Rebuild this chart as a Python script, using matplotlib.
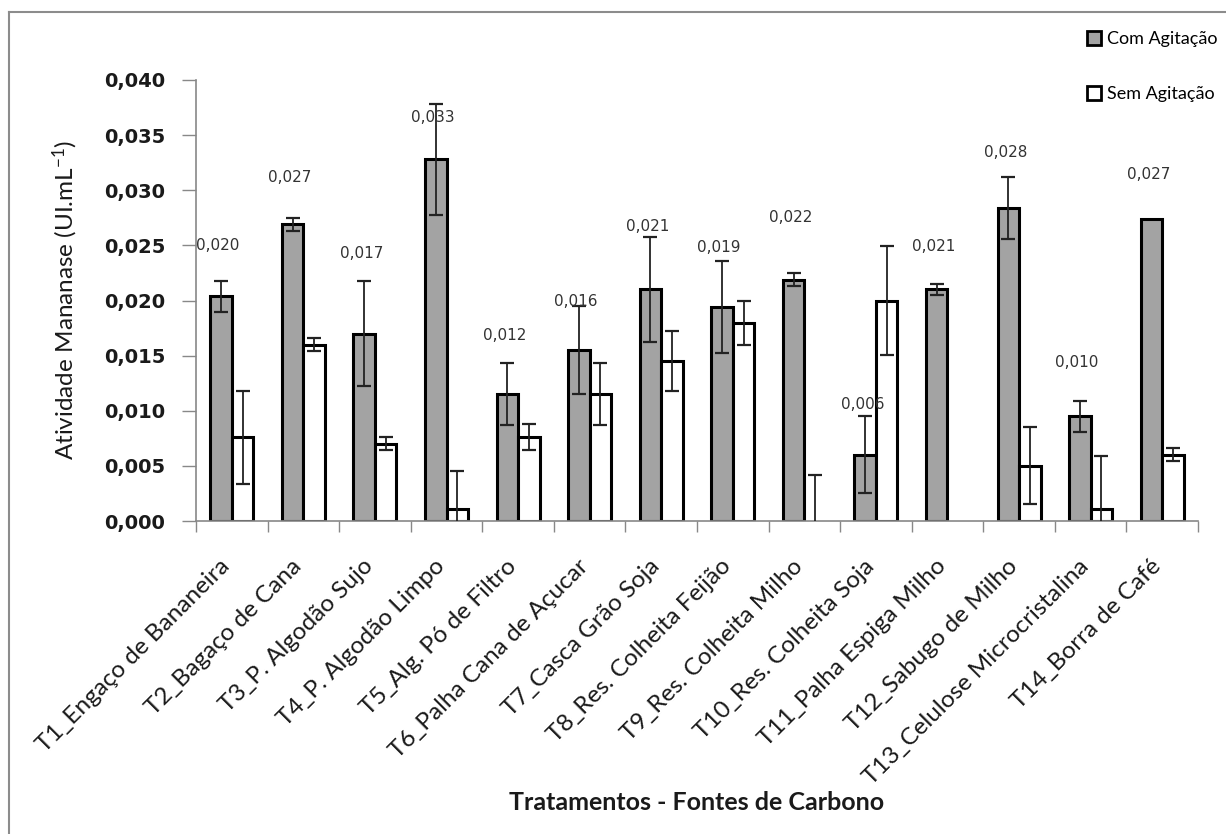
import matplotlib
matplotlib.use("Agg")
import matplotlib.pyplot as plt
from matplotlib.patches import Patch
from matplotlib.lines import Line2D
import matplotlib.transforms as mtransforms
import numpy as np

# ---------------- data ----------------
categories = [
    "T1_Engaço de Bananeira", "T2_Bagaço de Cana", "T3_P. Algodão Sujo",
    "T4_P. Algodão Limpo", "T5_Alg. Pó de Filtro", "T6_Palha Cana de Açucar",
    "T7_Casca Grão Soja", "T8_Res. Colheita Feijão", "T9_Res. Colheita Milho",
    "T10_Res. Colheita Soja", "T11_Palha Espiga Milho", "T12_Sabugo de Milho",
    "T13_Celulose Microcristalina", "T14_Borra de Café",
]
com_agitacao = [0.0204, 0.0269, 0.0170, 0.0328, 0.0115, 0.0155, 0.0210,
                0.0194, 0.0219, 0.0060, 0.0210, 0.0284, 0.0095, 0.0274]
com_err = [0.0014, 0.0006, 0.0048, 0.0050, 0.0028, 0.0040, 0.0048,
           0.0042, 0.0006, 0.0035, 0.0005, 0.0028, 0.0014, 0.0]
sem_agitacao = [0.0076, 0.0160, 0.0070, 0.0011, 0.0076, 0.0115, 0.0145,
                0.0180, 0.0, 0.0200, 0.0, 0.0050, 0.0011, 0.0060]
sem_err = [0.0042, 0.0006, 0.0006, 0.0034, 0.0012, 0.0028, 0.0027,
           0.0020, 0.0042, 0.0049, 0.0, 0.0035, 0.0048, 0.0006]
value_labels = ["0,020", "0,027", "0,017", "0,033", "0,012", "0,016", "0,021",
                "0,019", "0,022", "0,006", "0,021", "0,028", "0,010", "0,027"]
# height (in data units) at which each value label sits
label_heights = [0.0250, 0.0312, 0.0243, 0.0366, 0.0168, 0.0199, 0.0267,
                 0.0248, 0.0275, 0.0106, 0.0249, 0.0334, 0.0144, 0.0314]
yticks = [0.000, 0.005, 0.010, 0.015, 0.020, 0.025, 0.030, 0.035, 0.040]
ytick_labels = ["0,000", "0,005", "0,010", "0,015", "0,020", "0,025",
                "0,030", "0,035", "0,040"]
series_names = ["Com Agitação", "Sem Agitação"]

# ---------------- style ----------------
plt.rcParams['font.family'] = ['Lato', 'DejaVu Sans']
plt.rcParams['mathtext.fontset'] = 'custom'
plt.rcParams['mathtext.rm'] = 'Lato'
plt.rcParams['mathtext.it'] = 'Lato'

W, H = 1226, 834
fig = plt.figure(figsize=(W / 100, H / 100), dpi=100)
fig.patch.set_facecolor('white')
ax = fig.add_axes([196 / W, 1 - 521 / H, (1198 - 196) / W, (521 - 80) / H])

gray = '#a3a3a3'
x = np.arange(len(categories))
bw = 0.30

com = np.array(com_agitacao)
sem = np.array(sem_agitacao)
cerr = np.array(com_err)
serr = np.array(sem_err)

com_lw = [2.2] * len(com)
sem_lw = [2.2 if v > 0 else 0 for v in sem]

ax.bar(x - bw / 2, com, width=bw, color=gray, edgecolor='black',
       linewidth=com_lw, zorder=2)
ax.bar(x + bw / 2, sem, width=bw, color='white', edgecolor='black',
       linewidth=sem_lw, zorder=2)

cm = cerr > 0
sm = serr > 0
ax.errorbar((x - bw / 2)[cm], com[cm], yerr=cerr[cm], fmt='none', ecolor='#222222',
            elinewidth=1.3, capsize=5, capthick=1.6, zorder=3)
ax.errorbar((x + bw / 2)[sm], sem[sm], yerr=serr[sm], fmt='none', ecolor='#222222',
            elinewidth=1.3, capsize=5, capthick=1.6, zorder=3)

for xi, lab, hy in zip(x, value_labels, label_heights):
    ax.text(xi - bw / 2 - 0.04, hy, lab, ha='center', va='center',
            fontsize=11, color='#333333', family='DejaVu Sans', zorder=4)

ax.set_xlim(-0.5, len(categories) - 0.5)
ax.set_ylim(0, 0.040)
ax.set_yticks(yticks)
ax.set_yticklabels(ytick_labels, family='DejaVu Sans', fontweight='bold',
                   fontsize=14, color='#1a1a1a')
ax.tick_params(axis='y', length=10, width=1, color='#888888', pad=12)

ax.set_xticks(x)
ax.set_xticklabels(categories, rotation=45, ha='right', va='center',
                   rotation_mode='anchor', fontsize=17.5, color='#1a1a1a')
ax.tick_params(axis='x', which='major', length=0, pad=30)
shift = mtransforms.ScaledTranslation(-5 / 100, 0, fig.dpi_scale_trans)
for t in ax.get_xticklabels():
    t.set_transform(t.get_transform() + shift)
ax.set_xticks(np.arange(-0.5, len(categories), 1.0), minor=True)
ax.tick_params(axis='x', which='minor', length=8, width=1, color='#888888')

for s in ['top', 'right']:
    ax.spines[s].set_visible(False)
for s in ['left', 'bottom']:
    ax.spines[s].set_color('#888888')
    ax.spines[s].set_linewidth(1.2)

ax.set_ylabel("Atividade Mananase (UI.mL$^{\\mathrm{-1}}$)", fontsize=17.5,
              color='#1a1a1a', va='center')
ax.yaxis.set_label_coords((65 - 196) / (1198 - 196), 0.5)
ax.set_xlabel("Tratamentos - Fontes de Carbono", fontsize=18, fontweight='bold',
              color='#1a1a1a', va='center')
ax.xaxis.set_label_coords(0.5, (521 - 803) / (521 - 80))

handles = [Patch(facecolor=gray, edgecolor='black', linewidth=2),
           Patch(facecolor='white', edgecolor='black', linewidth=2)]
fig.legend(handles, series_names, loc='upper left',
           bbox_to_anchor=(1087 / W, 1 - 31 / H), frameon=False, fontsize=13,
           handlelength=0.8, handleheight=0.8, handletextpad=0.3,
           labelspacing=2.15, borderpad=0, borderaxespad=0)

# outer chart border (left and top visible)
fig.add_artist(Line2D([9 / W, 9 / W], [0, 1 - 12 / H], transform=fig.transFigure,
                      color='#8c8c8c', linewidth=1.5))
fig.add_artist(Line2D([9 / W, 1], [1 - 12 / H, 1 - 12 / H], transform=fig.transFigure,
                      color='#8c8c8c', linewidth=1.5))

fig.savefig('out.png', dpi=100, facecolor='white')
